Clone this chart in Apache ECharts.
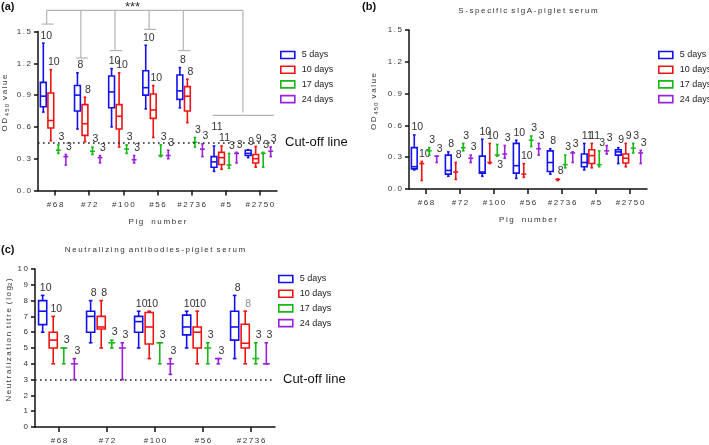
<!DOCTYPE html>
<html><head><meta charset="utf-8">
<script src="https://cdn.jsdelivr.net/npm/echarts@6/dist/echarts.min.js"></script>
<style>html,body{margin:0;padding:0;background:#fff}#c{width:709px;height:445px}</style>
</head><body><div id="c"></div>
<script>
// ---------- data ----------
const pigsAB = ['#68', '#72', '#100', '#56', '#2736', '#5', '#2750'];
const pigsC = ['#68', '#72', '#100', '#56', '#2736'];
const days = ['5 days', '10 days', '17 days', '24 days'];
const odTicks = [0, 0.3, 0.6, 0.9, 1.2, 1.5];
const titreTicks = [0, 1, 2, 3, 4, 5, 6, 7, 8, 9, 10];
const cutoffOD = 0.45;
const cutoffTitre = 3;

// each entry: [min, q1, median, q3, max]
// (a) OD450
const odA_5d = [[0.74,0.79,0.89,1.02,1.39],[0.58,0.75,0.90,0.99,1.11],[0.60,0.78,0.93,1.08,1.15],[0.77,0.90,0.97,1.13,1.37],[0.78,0.86,0.94,1.09,1.16],[0.18,0.22,0.27,0.32,0.42],[0.31,0.33,0.35,0.38,0.385]];
const odA_10d = [[0.47,0.59,0.66,0.92,1.14],[0.46,0.52,0.63,0.81,0.88],[0.41,0.58,0.70,0.81,1.11],[0.50,0.68,0.76,0.91,0.99],[0.64,0.75,0.89,0.98,1.05],[0.20,0.245,0.31,0.36,0.42],[0.22,0.26,0.30,0.34,0.415]];
const odA_17d = [[0.35,0.38,0.38,0.38,0.43],[0.34,0.37,0.37,0.37,0.41],[0.35,0.39,0.39,0.39,0.43],[0.32,0.33,0.33,0.33,0.43],[0.41,0.455,0.455,0.455,0.50],[0.21,0.24,0.24,0.24,0.35],[0.22,0.35,0.35,0.35,0.36]];
const odA_24d = [[0.24,0.32,0.32,0.32,0.34],[0.26,0.31,0.31,0.31,0.33],[0.26,0.29,0.29,0.29,0.33],[0.30,0.33,0.33,0.33,0.38],[0.32,0.39,0.39,0.39,0.44],[0.26,0.35,0.35,0.35,0.36],[0.32,0.37,0.37,0.37,0.41]];
const nA_5d = [10, 8, 10, 10, 8, 11, 9];
const nA_10d = [10, 8, 10, 10, 8, 11, 9];
const nA_17d = [3, 3, 3, 3, 3, 3, 3];
const nA_24d = [3, 3, 3, 3, 3, 3, 3];

// (b) S-specific sIgA-piglet serum
const odB_5d = [[0.18,0.19,0.21,0.39,0.51],[0.12,0.14,0.175,0.32,0.35],[0.12,0.15,0.16,0.31,0.47],[0.10,0.15,0.22,0.43,0.46],[0.14,0.165,0.25,0.36,0.38],[0.18,0.21,0.25,0.33,0.43],[0.24,0.32,0.35,0.37,0.39]];
const odB_10d = [[0.08,0.24,0.24,0.24,0.26],[0.09,0.16,0.16,0.16,0.25],[0.24,0.25,0.25,0.25,0.43],[0.11,0.14,0.14,0.14,0.24],[0.08,0.09,0.09,0.09,0.095],[0.20,0.24,0.315,0.37,0.43],[0.21,0.245,0.29,0.33,0.43]];
const odB_17d = [[0.32,0.36,0.36,0.36,0.39],[0.36,0.39,0.39,0.39,0.43],[0.31,0.32,0.32,0.32,0.42],[0.40,0.46,0.46,0.46,0.50],[0.20,0.23,0.23,0.23,0.32],[0.21,0.23,0.23,0.23,0.36],[0.34,0.385,0.385,0.385,0.43]];
const odB_24d = [[0.25,0.31,0.31,0.31,0.31],[0.25,0.29,0.29,0.29,0.32],[0.29,0.33,0.33,0.33,0.41],[0.32,0.38,0.38,0.38,0.43],[0.25,0.34,0.34,0.34,0.35],[0.33,0.36,0.36,0.36,0.41],[0.24,0.34,0.34,0.34,0.364]];
const nB_5d = [10, 8, 10, 10, 8, 11, 9];
const nB_10d = [10, 8, 10, 10, 8, 11, 9];
const nB_17d = [3, 3, 3, 3, 3, 3, 3];
const nB_24d = [3, 3, 3, 3, 3, 3, 3];

// (c) Neutralizing antibodies-piglet serum (log2 titre)
const ntC_5d = [[6.0,6.48,7.33,8.0,8.33],[5.33,6.0,7.0,7.33,8.0],[5.0,6.0,6.67,7.0,7.33],[5.0,5.83,6.33,7.08,7.33],[4.33,5.5,6.33,7.33,8.33]];
const ntC_10d = [[4.0,5.0,5.5,6.0,7.0],[5.0,6.2,6.33,7.0,8.0],[4.33,5.25,6.33,7.25,7.33],[4.0,5.0,6.0,6.33,7.33],[4.0,5.0,5.3,6.5,7.33]];
const ntC_17d = [[4.0,5.0,5.0,5.0,5.0],[5.0,5.33,5.33,5.33,5.5],[4.0,5.33,5.33,5.33,5.33],[4.0,5.0,5.0,5.0,5.33],[4.0,4.33,4.33,4.33,5.33]];
const ntC_24d = [[3.0,4.0,4.0,4.0,4.33],[3.0,5.0,5.0,5.0,5.33],[3.33,4.0,4.0,4.0,4.33],[4.0,4.33,4.33,4.33,4.33],[4.0,4.0,4.0,4.0,5.33]];
const nC_5d = [10, 8, 10, 10, 8];
const nC_10d = [10, 8, 10, 10, 8];
const nC_17d = [3, 3, 3, 3, 3];
const nC_24d = [3, 3, 3, 3, 3];

// significance bracket in panel (a): foot levels over groups 0..4, top level, right bracket level
const sigFeet = [1.57, 1.25, 1.32, 1.52, 1.32];
const sigTop = 1.70;
const sigRightDrop = 0.735;
const sigRight = 0.708;
const sigText = '***';

// ---------- helpers ----------
const colors = ['#1212ee', '#ee1414', '#18b818', '#9a22dd'];
const FONT = 'Arial, "Liberation Sans", sans-serif';
const sp = s => Array.from(s).join('\u2009');

const labelTweaks = { 'a-0-5': { dy: -11 }, 'b-2-2': { below: true } };
const labelColors = { 'c-1-4': '#8a8a8a' };

function boxSeries(panel, gi, dayIdx, stats, counts) {
  const data = stats.map((s, i) => [i, s[0], s[1], s[2], s[3], s[4], counts[i]]);
  const color = colors[dayIdx];
  return {
    type: 'custom', name: days[dayIdx], xAxisIndex: gi, yAxisIndex: gi,
    data: data, z: 3, silent: true,
    encode: { x: 0, y: [1, 5] },
    renderItem: function (params, api) {
      const ci = api.value(0);
      const band = api.size([1, 0])[0];
      const x = api.coord([ci, 0])[0] + (dayIdx - 1.5) * band * 0.22 - 0.5;
      const bw = band * 0.17;
      const yv = k => api.coord([ci, api.value(k)])[1];
      const yMin = yv(1), yQ1 = yv(2), yMed = yv(3), yQ3 = yv(4), yMax = yv(5);
      const collapsed = Math.abs(yQ1 - yQ3) < 0.6;
      const st = { stroke: color, lineWidth: 1.6, fill: null };
      const ch = [];
      const cw = bw * 0.45;
      if (collapsed) {
        ch.push({ type: 'line', shape: { x1: x, y1: yMax, x2: x, y2: yMin }, style: st });
      } else {
        ch.push({ type: 'line', shape: { x1: x, y1: yMax, x2: x, y2: yQ3 }, style: st });
        ch.push({ type: 'line', shape: { x1: x, y1: yQ1, x2: x, y2: yMin }, style: st });
      }
      ch.push({ type: 'line', shape: { x1: x - cw / 2, y1: yMax, x2: x + cw / 2, y2: yMax }, style: st });
      ch.push({ type: 'line', shape: { x1: x - cw / 2, y1: yMin, x2: x + cw / 2, y2: yMin }, style: st });
      if (!collapsed) {
        ch.push({ type: 'rect', shape: { x: x - bw / 2, y: yQ3, width: bw, height: yQ1 - yQ3 },
          style: { stroke: color, lineWidth: 1.6, fill: '#fff' } });
        ch.push({ type: 'line', shape: { x1: x - bw / 2, y1: yMed, x2: x + bw / 2, y2: yMed }, style: st });
      } else {
        const mw = bw * 0.85;
        ch.push({ type: 'line', shape: { x1: x - mw / 2, y1: yMed, x2: x + mw / 2, y2: yMed }, style: st });
      }
      const key = panel + '-' + dayIdx + '-' + ci;
      const tw = labelTweaks[key] || {};
      ch.push({ type: 'text', x: x + 3, y: tw.below ? yMin + 3 : yMax - 2 + (tw.dy || 0),
        style: { text: String(api.value(6)), fill: labelColors[key] || '#333', fontSize: 10.5,
          fontFamily: FONT, align: 'center', verticalAlign: tw.below ? 'top' : 'bottom' } });
      return { type: 'group', children: ch };
    }
  };
}

function cutLine(gi, value) {
  return {
    type: 'line', name: 'cutoff', xAxisIndex: gi, yAxisIndex: gi, data: [], silent: true,
    markLine: {
      silent: true, symbol: ['none', 'none'], animation: false,
      lineStyle: { type: [1.6, 3.4], color: '#222', width: 1.6 },
      label: { show: true, position: 'end', formatter: 'Cut-off line', fontSize: 13, color: '#111',
        fontFamily: FONT, distance: 8 },
      data: [{ yAxis: value }]
    }
  };
}

const bracketSeries = {
  type: 'custom', name: 'sig', xAxisIndex: 0, yAxisIndex: 0, silent: true, z: 2,
  data: [[0, sigTop]],
  renderItem: function (params, api) {
    const band = api.size([1, 0])[0];
    const px = (c, v) => api.coord([c, v]);
    const st = { stroke: '#b4b4b4', lineWidth: 1.2, fill: null };
    const ch = [];
    const yTop = px(0, sigTop)[1];
    const footX = sigFeet.map((v, i) => px(i, v)[0] - 0.245 * band);
    const rightX = (px(5, 0)[0] + px(6, 0)[0]) / 2;
    ch.push({ type: 'line', shape: { x1: footX[0], y1: yTop, x2: rightX, y2: yTop }, style: st });
    sigFeet.forEach((v, i) => {
      const yf = px(i, v)[1];
      ch.push({ type: 'line', shape: { x1: footX[i], y1: yTop, x2: footX[i], y2: yf }, style: st });
      ch.push({ type: 'line', shape: { x1: footX[i] - 5, y1: yf, x2: footX[i] + 7, y2: yf }, style: st });
    });
    const yrd = px(0, sigRightDrop)[1], yr = px(0, sigRight)[1];
    ch.push({ type: 'line', shape: { x1: rightX, y1: yTop, x2: rightX, y2: yrd }, style: st });
    ch.push({ type: 'line', shape: { x1: px(5, 0)[0] - 0.38 * band, y1: yr, x2: px(6, 0)[0] + 0.41 * band, y2: yr }, style: st });
    ch.push({ type: 'text', x: px(2, 0)[0] + 0.27 * band, y: yTop + 4,
      style: { text: sigText, fill: '#333', fontSize: 13, fontFamily: FONT, align: 'center', verticalAlign: 'bottom' } });
    return { type: 'group', children: ch };
  }
};

const axisBase = {
  axisLine: { show: true, onZero: false, lineStyle: { color: '#111', width: 1.5 } },
  axisTick: { show: true, length: 4, lineStyle: { color: '#111', width: 1.5 } },
  splitLine: { show: false },
  axisLabel: { fontSize: 8, color: '#333', fontFamily: FONT }
};
function xAx(gi, cats, withName) {
  return Object.assign({}, axisBase, {
    type: 'category', gridIndex: gi, data: cats.map(sp),
    axisTick: { show: true, length: 5, alignWithLabel: true, interval: 0, lineStyle: { color: '#111', width: 1.5 } },
    axisLabel: { fontSize: 8, color: '#333', fontFamily: FONT, margin: 10, interval: 0, hideOverlap: false },
    name: withName ? sp('Pig') + '\u2003' + sp('number') : '', nameLocation: 'middle', nameGap: 27,
    nameTextStyle: { fontSize: 8, color: '#333', fontFamily: FONT }
  });
}
function yAx(gi, ticks, nameRich, gap, dec) {
  return Object.assign({}, axisBase, {
    type: 'value', gridIndex: gi, min: ticks[0], max: ticks[ticks.length - 1], interval: ticks[1] - ticks[0],
    axisLabel: { fontSize: 8, color: '#333', fontFamily: FONT, margin: 7,
      formatter: v => sp(v.toFixed(dec)) },
    name: nameRich, nameLocation: 'middle', nameGap: gap,
    nameTextStyle: { padding: [0, 0, 0, 16], rich: {
      m: { fontSize: 8, color: '#333', fontFamily: FONT, lineHeight: 10 },
      s: { fontSize: 6, color: '#333', fontFamily: FONT, lineHeight: 7, verticalAlign: 'bottom' } } }
  });
}
const odName = '{m|' + sp('OD') + '\u2009}{s|' + sp('450') + '}{m|\u2002' + sp('value') + '}';
const ntName = '{m|' + sp('Neutralization') + '\u2002' + sp('titre') + '\u2002' + sp('(log') + '}{s|2}{m|\u2009)}';

function legend(left, top) {
  return {
    orient: 'vertical', left: left, top: top, icon: 'rect', itemWidth: 14, itemHeight: 7, itemGap: 4.7,
    selectedMode: false, padding: 0,
    textStyle: { fontSize: 9, color: '#222', fontFamily: FONT, lineHeight: 10, padding: [0, 0, 0, 2] },
    data: days.map((d, i) => ({ name: d, itemStyle: { color: '#fff', borderColor: colors[i], borderWidth: 1.6 } }))
  };
}

const option = {
  animation: false,
  backgroundColor: '#fff',
  grid: [
    { left: 37, top: 31.5, width: 240, height: 159 },
    { left: 409, top: 30, width: 238, height: 159 },
    { left: 35, top: 269, width: 240, height: 160 }
  ],
  xAxis: [xAx(0, pigsAB, true), xAx(1, pigsAB, true), xAx(2, pigsC, false)],
  yAxis: [yAx(0, odTicks, odName, 28, 1), yAx(1, odTicks, odName, 30, 1), yAx(2, titreTicks, ntName, 21, 0)],
  legend: [legend(280, 50), legend(658, 50), legend(278, 274)],
  graphic: [
    { type: 'text', x: 1, y: 1, style: { text: '(a)', fontSize: 11, fontWeight: 'bold', fill: '#111', fontFamily: FONT } },
    { type: 'text', x: 362, y: 1, style: { text: '(b)', fontSize: 11, fontWeight: 'bold', fill: '#111', fontFamily: FONT } },
    { type: 'text', x: 1, y: 244, style: { text: '(c)', fontSize: 11, fontWeight: 'bold', fill: '#111', fontFamily: FONT } },
    { type: 'text', x: 528, y: 11, style: { text: sp('S-specific') + '\u2002' + sp('sIgA-piglet') + '\u2002' + sp('serum'),
      fontSize: 8, fill: '#333', fontFamily: FONT, align: 'center', verticalAlign: 'middle' } },
    { type: 'text', x: 155, y: 250, style: { text: sp('Neutralizing') + '\u2002' + sp('antibodies-piglet') + '\u2002' + sp('serum'),
      fontSize: 8, fill: '#333', fontFamily: FONT, align: 'center', verticalAlign: 'middle' } }
  ],
  series: [
    bracketSeries,
    boxSeries('a', 0, 0, odA_5d, nA_5d), boxSeries('a', 0, 1, odA_10d, nA_10d),
    boxSeries('a', 0, 2, odA_17d, nA_17d), boxSeries('a', 0, 3, odA_24d, nA_24d),
    boxSeries('b', 1, 0, odB_5d, nB_5d), boxSeries('b', 1, 1, odB_10d, nB_10d),
    boxSeries('b', 1, 2, odB_17d, nB_17d), boxSeries('b', 1, 3, odB_24d, nB_24d),
    boxSeries('c', 2, 0, ntC_5d, nC_5d), boxSeries('c', 2, 1, ntC_10d, nC_10d),
    boxSeries('c', 2, 2, ntC_17d, nC_17d), boxSeries('c', 2, 3, ntC_24d, nC_24d),
    cutLine(0, cutoffOD), cutLine(2, cutoffTitre)
  ]
};
const chart = echarts.init(document.getElementById('c'), null, { renderer: 'canvas' });
chart.setOption(option);
</script></body></html>
